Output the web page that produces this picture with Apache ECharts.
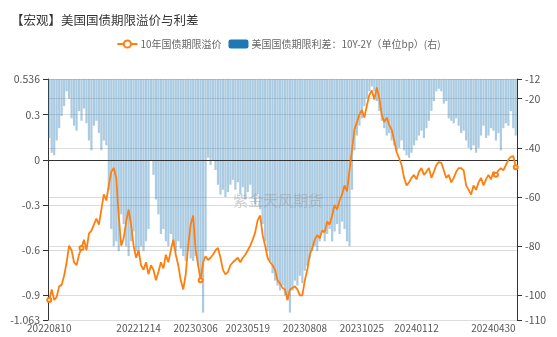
<!DOCTYPE html>
<html><head><meta charset="utf-8">
<script src="https://cdn.jsdelivr.net/npm/echarts@6/dist/echarts.min.js"></script>
<style>html,body{margin:0;padding:0;background:#fff}#c{width:557px;height:337px}</style>
</head><body><div id="c"></div>
<script>
var dates = ['20220810',
'20220815','20220818','20220822','20220825','20220829','20220901','20220905','20220908','20220912','20220915',
'20220919','20220922','20220926','20220929','20221003','20221006','20221010','20221013','20221017','20221020',
'20221024','20221027','20221031','20221103','20221107','20221110','20221114','20221117','20221121','20221124',
'20221128','20221201','20221205','20221208','20221212','20221214','20221219','20221222','20221226','20221229',
'20230102','20230105','20230109','20230112','20230116','20230119','20230123','20230126','20230130','20230202',
'20230206','20230209','20230213','20230216','20230220','20230223','20230227','20230302','20230306','20230309',
'20230313','20230316','20230320','20230323','20230327','20230330','20230403','20230406','20230410','20230413',
'20230417','20230420','20230424','20230427','20230501','20230504','20230508','20230511','20230515','20230519',
'20230522','20230525','20230529','20230601','20230605','20230608','20230612','20230615','20230619','20230622',
'20230626','20230629','20230703','20230706','20230710','20230713','20230717','20230720','20230724','20230727',
'20230731','20230803','20230808','20230810','20230814','20230817','20230821','20230824','20230828','20230831',
'20230904','20230907','20230911','20230914','20230918','20230921','20230925','20230928','20231002','20231005',
'20231009','20231012','20231016','20231019','20231023','20231025','20231030','20231102','20231106','20231109',
'20231113','20231116','20231120','20231123','20231127','20231130','20231204','20231207','20231211','20231214',
'20231218','20231221','20231225','20231228','20240101','20240104','20240108','20240112','20240115','20240118',
'20240122','20240125','20240129','20240201','20240205','20240208','20240212','20240215','20240219','20240222',
'20240226','20240229','20240304','20240307','20240311','20240314','20240318','20240321','20240325','20240328',
'20240401','20240404','20240408','20240411','20240415','20240418','20240422','20240425','20240430','20240502',
'20240506','20240509','20240513','20240516','20240520','20240523','20240527','20240530'];

var labelDates = ['20220810','20221214','20230306','20230519','20230808','20231025','20240112','20240430'];

var termPremium = [-0.93,
-0.86,-0.93,-0.91,-0.84,-0.83,-0.77,-0.68,-0.57,-0.60,-0.68,
-0.70,-0.63,-0.585,-0.53,-0.60,-0.49,-0.47,-0.43,-0.39,-0.43,
-0.33,-0.23,-0.27,-0.17,-0.08,-0.055,-0.12,-0.37,-0.57,-0.52,
-0.41,-0.33,-0.43,-0.57,-0.65,-0.60,-0.70,-0.73,-0.68,-0.76,
-0.70,-0.73,-0.80,-0.745,-0.68,-0.72,-0.63,-0.68,-0.60,-0.53,
-0.63,-0.70,-0.80,-0.86,-0.76,-0.57,-0.43,-0.37,-0.60,-0.70,
-0.80,-0.68,-0.64,-0.665,-0.65,-0.63,-0.60,-0.585,-0.65,-0.73,
-0.76,-0.745,-0.70,-0.68,-0.665,-0.65,-0.68,-0.65,-0.63,-0.60,
-0.57,-0.53,-0.48,-0.40,-0.37,-0.50,-0.57,-0.65,-0.68,-0.70,
-0.73,-0.80,-0.82,-0.85,-0.86,-0.93,-0.86,-0.85,-0.84,-0.86,
-0.90,-0.90,-0.80,-0.73,-0.63,-0.585,-0.53,-0.50,-0.52,-0.47,
-0.48,-0.41,-0.43,-0.37,-0.30,-0.33,-0.27,-0.23,-0.17,-0.21,
-0.07,0.065,0.20,0.25,0.30,0.33,0.28,0.36,0.43,0.46,
0.40,0.48,0.41,0.30,0.25,0.28,0.23,0.20,0.13,0.05,
0.01,-0.035,-0.12,-0.17,-0.15,-0.12,-0.10,-0.13,-0.08,-0.055,
-0.10,-0.08,-0.055,-0.12,-0.08,-0.035,-0.015,-0.02,-0.07,-0.12,
-0.10,-0.15,-0.12,-0.08,-0.055,-0.055,-0.07,-0.17,-0.20,-0.23,
-0.17,-0.20,-0.15,-0.12,-0.17,-0.13,-0.10,-0.13,-0.08,-0.10,
-0.07,-0.055,-0.07,-0.035,0.00,0.02,0.025,-0.05];

var spread = [-36,
-42,-43,-37,-32,-27,-23,-17,-20,-28,-31,
-33,-25,-29,-24,-30,-37,-41,-31,-29,-34,
-41,-37,-39,-57,-73,-80,-78,-82,-67,-71,
-80,-84,-78,-74,-82,-84,-80,-82,-78,-73,
-45,-51,-61,-67,-75,-73,-78,-80,-75,-80,
-82,-78,-81,-84,-86,-82,-85,-86,-84,-88,
-94,-107,-82,-44,-47,-45,-49,-55,-59,-57,
-60,-58,-55,-53,-57,-54,-59,-56,-61,-58,
-55,-60,-63,-59,-65,-71,-78,-82,-86,-91,
-94,-96,-98,-96,-100,-102,-107,-98,-94,-96,
-92,-95,-90,-88,-85,-82,-80,-82,-78,-74,
-78,-75,-73,-78,-74,-71,-75,-70,-73,-78,
-80,-57,-41,-35,-31,-28,-23,-20,-17,-15,
-17,-21,-25,-29,-32,-35,-34,-37,-39,-41,
-40,-37,-41,-43,-44,-42,-39,-37,-35,-33,
-36,-32,-29,-25,-21,-17,-16,-17,-22,-21,
-28,-29,-30,-28,-31,-34,-33,-37,-40,-41,
-39,-42,-40,-35,-31,-36,-35,-32,-33,-37,
-34,-41,-32,-30,-31,-25,-32,-35];

var markedPoints = [0, 13, 61, 180, 188];
var leftTicks = [-1.063, -0.9, -0.6, -0.3, 0, 0.3, 0.536];
var rightTicks = [-110, -100, -80, -60, -40, -20, -12];

var chart = echarts.init(document.getElementById('c'), null, {renderer: 'canvas'});
var font = '"Microsoft YaHei","Noto Sans CJK SC","Noto Sans",sans-serif';
chart.setOption({
  animation: false,
  textStyle: {fontFamily: font},
  title: {
    text: '【宏观】美国国债期限溢价与利差',
    left: 6, top: 9,
    textStyle: {fontSize: 12.5, fontWeight: 'normal', color: '#333', fontFamily: font}
  },
  legend: {
    top: 34, left: 'center',
    itemWidth: 20, itemHeight: 9, itemGap: 7,
    textStyle: {fontSize: 10, color: '#666', padding: [0, 0, 0, -2]},
    data: [
      {name: '10年国债期限溢价'},
      {name: '美国国债期限利差：10Y-2Y（单位bp）(右)', itemStyle: {color: '#1f77b4', opacity: 1}}
    ]
  },
  grid: {left: 48, right: 40, top: 79, bottom: 17, containLabel: false},
  graphic: [{
    type: 'text', x: 278, y: 200, z: 100, silent: true,
    style: {text: '紫金天风期货', fontSize: 15, fill: 'rgba(150,150,150,0.45)', textAlign: 'center', textVerticalAlign: 'middle', fontFamily: font}
  }],
  xAxis: {
    type: 'category', data: dates,
    axisLine: {show: false},
    axisTick: {show: false},
    splitLine: {show: false},
    axisLabel: {
      color: '#555', fontSize: 10, margin: 3,
      interval: function (i, v) { return labelDates.indexOf(v) >= 0; }
    }
  },
  yAxis: [{
    type: 'value', min: leftTicks[0], max: leftTicks[leftTicks.length - 1], splitNumber: 5,
    axisLine: {show: true, lineStyle: {color: '#333'}},
    axisTick: {show: true, lineStyle: {color: '#333'}},
    axisLabel: {color: '#555', fontSize: 10.5, showMinLabel: true, showMaxLabel: true},
    splitLine: {show: true, lineStyle: {color: '#dcdcdc'}}
  }, {
    type: 'value', min: rightTicks[0], max: rightTicks[rightTicks.length - 1], splitNumber: 5,
    axisLine: {show: true, lineStyle: {color: '#333'}},
    axisTick: {show: true, lineStyle: {color: '#333'}},
    axisLabel: {color: '#555', fontSize: 10.5, showMinLabel: true, showMaxLabel: true},
    splitLine: {show: true, lineStyle: {color: '#dcdcdc'}}
  }],
  series: [{
    name: '10年国债期限溢价', type: 'line', data: termPremium, yAxisIndex: 0, z: 5,
    showAllSymbol: true,
    symbol: 'emptyCircle',
    symbolSize: function (v, p) { return markedPoints.indexOf(p.dataIndex) >= 0 ? 4 : 0; },
    lineStyle: {color: '#ff7f0e', width: 1.8}, itemStyle: {color: '#ff7f0e', borderWidth: 1},
    markLine: {silent: true, symbol: 'none', label: {show: false},
      lineStyle: {color: '#333', width: 1, type: 'solid'}, data: [{yAxis: 0}]}
  }, {
    name: '美国国债期限利差：10Y-2Y（单位bp）(右)', type: 'bar', data: spread, yAxisIndex: 1, z: 2,
    barCategoryGap: '12%',
    itemStyle: {color: '#1f77b4', opacity: 0.38}
  }]
});
</script></body></html>
